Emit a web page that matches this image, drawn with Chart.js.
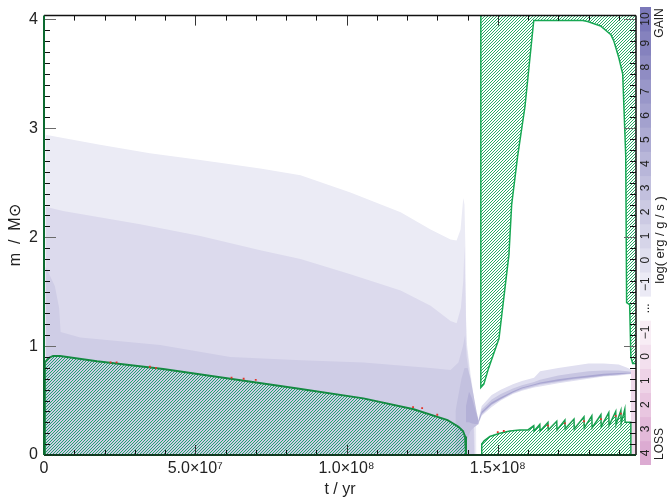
<!DOCTYPE html>
<html><head><meta charset="utf-8">
<script src="https://cdn.jsdelivr.net/npm/chart.js@4.4.1/dist/chart.umd.min.js"></script>
<style>
html,body{margin:0;padding:0;background:#fff;}
#wrap{position:relative;width:667px;height:502px;overflow:hidden;}
#main{position:absolute;left:0;top:0;}
#cbar{position:absolute;left:636px;top:0;}
</style></head><body>
<div id="wrap">
<canvas id="main" width="667" height="502"></canvas>
<canvas id="cbar" width="31" height="502"></canvas>
</div>
<script>
// ---------------- axes ----------------
const xMin = 0, xMax = 1.957e8, yMin = 0, yMax = 4.035;
const xMajorTicks = [0, 5e7, 1e8, 1.5e8];
const xTickLabels = ['0', '5.0×10⁷', '1.0×10⁸', '1.5×10⁸'];
const xMinorTicks = [1e7, 2e7, 3e7, 4e7, 6e7, 7e7, 8e7, 9e7, 1.1e8, 1.2e8, 1.3e8, 1.4e8, 1.6e8, 1.7e8, 1.8e8, 1.9e8];
const yMajorTicks = [0, 1, 2, 3, 4];
const yTickLabels = ['0', '1', '2', '3', '4'];
const yMinorTicks = [0.1,0.2,0.3,0.4,0.5,0.6,0.7,0.8,0.9,1.1,1.2,1.3,1.4,1.5,1.6,1.7,1.8,1.9,
                     2.1,2.2,2.3,2.4,2.5,2.6,2.7,2.8,2.9,3.1,3.2,3.3,3.4,3.5,3.6,3.7,3.8,3.9];

// ---------------- nuclear energy levels (main sequence) ----------------
const tL1 = [5e5, 5e5, 1.85e7, 3.5e7, 5.17e7, 7.15e7, 8.48e7, 1.013e8, 1.179e8, 1.278e8, 1.344e8, 1.364e8, 1.377e8, 1.386e8, 1.390e8, 1.393e8, 1.395e8, 1.397e8, 1.41e8, 1.42e8, 1.428e8, 1.430e8];
const mL1 = [0, 2.94, 2.85, 2.77, 2.71, 2.63, 2.57, 2.41, 2.23, 2.07, 1.98, 1.97, 2.07, 2.36, 2.30, 1.9, 1.3, 1.05, 0.75, 0.55, 0.35, 0];
const tL2 = [5e5, 5e5, 6.3e6, 3.18e7, 5.17e7, 7.15e7, 8.48e7, 1.013e8, 1.179e8, 1.278e8, 1.344e8, 1.364e8, 1.378e8, 1.386e8, 1.390e8, 1.393e8, 1.397e8, 1.41e8, 1.42e8, 1.425e8];
const mL2 = [0, 2.28, 2.24, 2.12, 2.01, 1.88, 1.80, 1.66, 1.51, 1.37, 1.23, 1.21, 1.35, 1.6, 1.92, 1.5, 1.0, 0.7, 0.45, 0];
const tL3 = [5e5, 5e5, 3.6e6, 5e6, 5.5e6, 1.2e7, 3.84e7, 6.16e7, 8.5e7, 1.056e8, 1.278e8, 1.344e8, 1.37e8, 1.385e8, 1.392e8, 1.397e8, 1.41e8, 1.42e8, 1.422e8];
const mL3 = [0, 1.73, 1.55, 1.35, 1.13, 1.08, 1.01, 0.90, 0.87, 0.85, 0.80, 0.78, 0.85, 1.0, 1.1, 0.9, 0.65, 0.3, 0];
// neck between core hydrogen burning and shell burning
const tNeck = [1.36e8, 1.38e8, 1.39e8, 1.40e8, 1.41e8, 1.42e8, 1.43e8, 1.437e8];
const mNeckTop = [0.40, 0.70, 0.80, 0.80, 0.70, 0.55, 0.40, 0.31];
const mNeckBot = [0.00, 0.00, 0.05, 0.15, 0.22, 0.25, 0.27, 0.285];
const tNeck2 = [1.395e8, 1.405e8, 1.415e8, 1.425e8, 1.437e8];
const mNeck2Top = [0.45, 0.58, 0.52, 0.42, 0.305];
const mNeck2Bot = [0.30, 0.30, 0.29, 0.285, 0.285];
// hydrogen burning shell band
const tBand = [1.434e8, 1.447e8, 1.48e8, 1.51e8, 1.55e8, 1.58e8, 1.62e8, 1.64e8, 1.70e8, 1.75e8, 1.80e8, 1.85e8, 1.90e8, 1.93e8, 1.95e8];
const mBand1Top = [0.30, 0.45, 0.55, 0.60, 0.65, 0.68, 0.71, 0.77, 0.80, 0.82, 0.84, 0.84, 0.83, 0.80, 0.77];
const mBand1Bot = [0.27, 0.36, 0.44, 0.50, 0.56, 0.59, 0.62, 0.63, 0.66, 0.68, 0.70, 0.72, 0.73, 0.74, 0.745];
const mBand2Top = [0.30, 0.42, 0.51, 0.56, 0.61, 0.64, 0.67, 0.69, 0.73, 0.75, 0.77, 0.775, 0.775, 0.77, 0.76];
const mBand2Bot = [0.28, 0.37, 0.46, 0.51, 0.57, 0.60, 0.63, 0.645, 0.67, 0.69, 0.71, 0.725, 0.735, 0.745, 0.748];
const mBand3Top = [0.295, 0.40, 0.485, 0.53, 0.585, 0.62, 0.65, 0.665, 0.695, 0.715, 0.73, 0.745, 0.752, 0.755, 0.755];
const mBand3Bot = [0.285, 0.38, 0.465, 0.515, 0.575, 0.61, 0.64, 0.655, 0.68, 0.70, 0.715, 0.73, 0.742, 0.748, 0.75];
// neutrino loss at the tip
const tLoss = [1.940e8, 1.940e8, 1.957e8];
const mLoss = [0, 0.78, 0.78];

// ---------------- convective regions ----------------
const tCore = [3e5, 3e5, 1.5e6, 3e6, 5.3e6, 1.75e7, 3.94e7, 6.16e7, 8.38e7, 1.056e8, 1.222e8, 1.334e8, 1.370e8, 1.385e8, 1.392e8, 1.395e8];
const mCore = [0, 0.85, 0.89, 0.91, 0.91, 0.86, 0.79, 0.70, 0.61, 0.52, 0.42, 0.32, 0.26, 0.22, 0.17, 0];
const tEnv = [1.444e8, 1.444e8, 1.454e8, 1.470e8, 1.504e8, 1.537e8, 1.546e8, 1.566e8, 1.590e8, 1.619e8, 1.781e8, 1.797e8, 1.840e8, 1.874e8, 1.884e8, 1.900e8, 1.913e8, 1.917e8, 1.923e8, 1.926e8, 1.936e8, 1.940e8, 1.946e8, 1.957e8];
const mEnv = [4.2, 0.62, 0.65, 0.80, 1.07, 1.84, 2.30, 2.75, 3.20, 3.99, 3.99, 3.98, 3.94, 3.86, 3.80, 3.65, 3.50, 3.20, 2.75, 1.40, 1.38, 0.90, 0.84, 0.84];
const tShellCore = [1.447e8, 1.447e8, 1.455e8, 1.474e8, 1.507e8, 1.54e8, 1.573e8, 1.60e8, 1.619e8, 1.620e8, 1.639e8, 1.640e8, 1.666e8, 1.667e8, 1.695e8, 1.696e8, 1.722e8, 1.723e8, 1.752e8, 1.753e8, 1.785e8, 1.786e8, 1.811e8, 1.812e8, 1.841e8, 1.842e8, 1.867e8, 1.868e8, 1.890e8, 1.891e8, 1.907e8, 1.908e8, 1.920e8, 1.921e8, 1.940e8, 1.940e8];
const mShellCore = [0, 0.10, 0.13, 0.17, 0.20, 0.22, 0.23, 0.23, 0.27, 0.22, 0.28, 0.22, 0.30, 0.23, 0.31, 0.23, 0.32, 0.24, 0.33, 0.24, 0.35, 0.25, 0.36, 0.25, 0.37, 0.26, 0.39, 0.27, 0.40, 0.28, 0.41, 0.29, 0.42, 0.30, 0.30, 0];
// overshoot / semiconvection marks (red)
const tRed = [2.2e7, 2.4e7, 3.5e7, 3.7e7, 6.2e7, 6.6e7, 7.0e7, 1.22e8, 1.25e8, 1.30e8, 1.666e8, 1.722e8, 1.785e8, 1.841e8, 1.890e8, 1.907e8, 1.50e8, 1.52e8];
const mRed = [0.85, 0.85, 0.81, 0.80, 0.71, 0.70, 0.69, 0.44, 0.43, 0.37, 0.27, 0.29, 0.31, 0.33, 0.36, 0.38, 0.21, 0.22];

// ---------------- colour bar ----------------
const cbLabels = ['10','9','8','7','6','5','4','3','2','1','0','−1','...','−1','0','1','2','3','4'];
const cbColors = ['#7b78b9','#8582be','#8f8cc3','#9997c9','#a3a1ce','#adabd3','#b8b6d9','#c2c0de','#cccae3','#d6d5e9','#e0dfef','#ebeaf5','#ffffff',
                  '#f8edf5','#f3e0ee','#eed3e7','#e9c6e0','#e3b9d9','#dcabd2'];
const cbValues = [1,1,1,1,1,1,1,1,1,1,1,1,1,1,1,1,1,1,1];

const FONT = "'Liberation Sans', Arial, sans-serif";
const zip = (t, m) => t.map((v, i) => ({x: v, y: m[i]}));

const mainCanvas = document.getElementById('main');
const mctx = mainCanvas.getContext('2d');
function hatch(color, w) {
  const c = document.createElement('canvas'); c.width = 3; c.height = 3;
  const g = c.getContext('2d');
  g.strokeStyle = color; g.lineWidth = w;
  g.beginPath();
  g.moveTo(-1, 4); g.lineTo(4, -1);
  g.moveTo(-1, 1); g.lineTo(1, -1);
  g.moveTo(2, 4); g.lineTo(4, 2);
  g.stroke();
  return mctx.createPattern(c, 'repeat');
}
const hatchEnv = hatch('#27ad66', 1.0);
const hatchCore = hatch('#21a36e', 1.0);

const painter = []; // bottom first
function area(t, m, color, extra) {
  painter.push(Object.assign({data: zip(t, m), backgroundColor: color, borderColor: 'rgba(0,0,0,0)', borderWidth: 0, fill: 'origin'}, extra || {}));
}
function band(t, top, bot, color) {
  const lower = {data: zip(t, bot), backgroundColor: 'rgba(0,0,0,0)', borderColor: 'rgba(0,0,0,0)', borderWidth: 0, fill: false};
  painter.push(lower);
  const li = painter.length - 1;
  painter.push({data: zip(t, top), backgroundColor: color, borderColor: 'rgba(0,0,0,0)', borderWidth: 0, fill: {target: li}});
}
area(tL1, mL1, '#ebebf5');
area(tL2, mL2, '#dcdaed');
area(tL3, mL3, '#cfcde6');
band(tNeck, mNeckTop, mNeckBot, '#c3c1df');
band(tNeck2, mNeck2Top, mNeck2Bot, '#b3b0d7');
band(tBand, mBand1Top, mBand1Bot, '#e0dff0');
band(tBand, mBand2Top, mBand2Bot, '#c8c6e2');
band(tBand, mBand3Top, mBand3Bot, '#aaa7d2');
area(tLoss, mLoss, '#efd9ea');
area(tCore, mCore, hatchCore, {borderColor: '#148a42', borderWidth: 2});
area(tShellCore, mShellCore, hatchEnv, {borderColor: '#16a04e', borderWidth: 1.5});
area(tEnv, mEnv, hatchEnv, {borderColor: '#18a854', borderWidth: 1.5, fill: 'end'});
painter.push({data: zip(tRed, mRed), showLine: false, fill: false, pointRadius: 1.3, pointStyle: 'rect',
              pointBackgroundColor: '#e2352b', pointBorderWidth: 0, borderColor: 'rgba(0,0,0,0)', backgroundColor: '#e2352b'});
const N = painter.length;
painter.forEach((d, i) => { d.order = N - i; if (d.pointRadius === undefined) d.pointRadius = 0; d.tension = 0; });

const frame = {
  id: 'frame',
  afterDatasetsDraw(chart) {
    const {ctx, chartArea: a, scales: {x, y}} = chart;
    ctx.save();
    ctx.lineWidth = 1;
    const line = (x1, y1, x2, y2, c) => { ctx.strokeStyle = c; ctx.beginPath(); ctx.moveTo(x1, y1); ctx.lineTo(x2, y2); ctx.stroke(); };
    xMinorTicks.forEach(v => { const p = Math.round(x.getPixelForValue(v)) + 0.5;
      line(p, a.bottom, p, a.bottom - 5, '#111'); line(p, a.top, p, a.top + 5, '#111'); });
    xMajorTicks.forEach(v => { const p = Math.round(x.getPixelForValue(v)) + 0.5;
      line(p, a.bottom, p, a.bottom - 10, '#333'); line(p, a.top, p, a.top + 10, '#333'); });
    yMinorTicks.forEach(v => { const p = Math.round(y.getPixelForValue(v)) + 0.5;
      line(a.left, p, a.left + 6, p, '#111'); line(a.right, p, a.right - 6, p, '#111'); });
    yMajorTicks.forEach(v => { const p = Math.round(y.getPixelForValue(v)) + 0.5;
      line(a.left, p, a.left + 12, p, '#6a6a6a'); line(a.right, p, a.right - 12, p, '#6a6a6a'); });
    ctx.lineWidth = 1.5;
    line(a.left, a.top, a.right, a.top, '#111');
    line(a.right, a.top, a.right, a.bottom, '#111');
    ctx.lineWidth = 2;
    line(a.left, a.bottom, a.right, a.bottom, '#123a20');
    line(a.left, a.top, a.left, a.bottom, '#0c6a30');
    ctx.restore();
  }
};

new Chart(mainCanvas, {
  type: 'line',
  data: {datasets: painter},
  options: {
    responsive: false, animation: false, events: [],
    layout: {padding: {top: 7, right: 31, left: 0, bottom: 0}},
    plugins: {legend: {display: false}, tooltip: {enabled: false}},
    scales: {
      x: {
        type: 'linear', min: xMin, max: xMax,
        afterBuildTicks: s => { s.ticks = xMajorTicks.map(v => ({value: v})); },
        afterFit: s => { s.height = 47; },
        ticks: {autoSkip: false, maxRotation: 0, padding: 4, color: '#222', font: {family: FONT, size: 16},
                callback: v => xTickLabels[xMajorTicks.indexOf(v)]},
        grid: {display: false, drawTicks: false}, border: {display: false},
        title: {display: true, text: 't / yr', color: '#222', font: {family: FONT, size: 16}, padding: {top: 0, bottom: 3}}
      },
      y: {
        type: 'linear', min: yMin, max: yMax,
        afterBuildTicks: s => { s.ticks = yMajorTicks.map(v => ({value: v})); },
        afterFit: s => { s.width = 44; },
        ticks: {padding: 6, color: '#222', font: {family: FONT, size: 16},
                callback: v => yTickLabels[yMajorTicks.indexOf(v)]},
        grid: {display: false, drawTicks: false}, border: {display: false},
        title: {display: true, text: 'm  /  M⊙', color: '#222', font: {family: FONT, size: 16}, padding: {top: 6, bottom: 0}}
      }
    }
  },
  plugins: [frame]
});

// ---------------- colour bar chart ----------------
const cbText = {
  id: 'cbText',
  afterDatasetsDraw(chart) {
    const ctx = chart.ctx, a = chart.chartArea;
    ctx.save();
    ctx.fillStyle = '#222';
    ctx.textAlign = 'center'; ctx.textBaseline = 'middle';
    const rot = (txt, cx, cy, size) => { ctx.save(); ctx.translate(cx, cy); ctx.rotate(-Math.PI / 2);
      ctx.font = size + 'px ' + FONT; ctx.fillText(txt, 0, 0); ctx.restore(); };
    chart.data.datasets.forEach((d, i) => {
      const el = chart.getDatasetMeta(i).data[0];
      rot(cbLabels[i], (a.left + a.right) / 2, (el.y + el.base) / 2, 12);
    });
    rot('GAIN', 24, 23, 12);
    rot('log( erg / g / s )', 24, 240, 13);
    rot('LOSS', 24, 444, 12);
    ctx.restore();
  }
};
new Chart(document.getElementById('cbar'), {
  type: 'bar',
  data: {labels: [''], datasets: cbLabels.map((l, i) => ({label: l, data: [cbValues[i]], backgroundColor: cbColors[i],
        borderWidth: 0, barPercentage: 1, categoryPercentage: 1}))},
  options: {
    responsive: false, animation: false, events: [],
    layout: {padding: {left: 4, right: 16, top: 7, bottom: 37}},
    plugins: {legend: {display: false}, tooltip: {enabled: false}},
    scales: {
      x: {display: false, stacked: true},
      y: {display: false, stacked: true, min: 0, max: 19, reverse: true}
    }
  },
  plugins: [cbText]
});
</script>
</body></html>
